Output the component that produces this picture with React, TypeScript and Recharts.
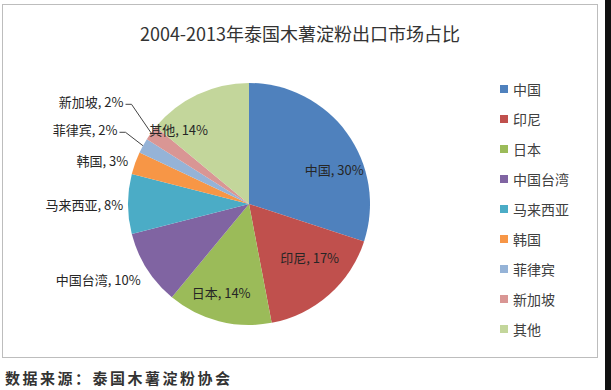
import { PieChart, Pie, Cell } from 'recharts';

const TITLE = '2004-2013年泰国木薯淀粉出口市场占比';
const SOURCE = '数据来源：泰国木薯淀粉协会';

const markets = ['中国', '印尼', '日本', '中国台湾', '马来西亚', '韩国', '菲律宾', '新加坡', '其他'];
const shares = [30, 17, 14, 10, 8, 3, 2, 2, 14];
const colors = ['#4F81BD', '#C0504D', '#9BBB59', '#8064A2', '#4BACC6', '#F79646', '#95B3D7', '#D99694', '#C3D69B'];

const data = markets.map((name, i) => ({ name, value: shares[i] }));

const FONT = '"Noto Sans CJK SC", "Noto Sans", sans-serif';
const RAD = Math.PI / 180;

// label placement per slice: inside ones sit on a fraction of the radius,
// outside ones are right-aligned beyond the edge (Excel "best fit" look)
const labelPos = [
  { r: 0.76, da: -14, inside: true },
  { r: 0.67, da: 7, inside: true },
  { r: 0.77, da: -3, inside: true },
  { r: 1.09, da: 2.4, inside: false },
  { r: 1.04, da: 0, inside: false },
  { r: 1.06, da: 0.2, inside: false },
  { r: 1.25, da: -0.8, inside: false, leader: true },
  { r: 1.34, da: -3.3, inside: false, leader: true },
  { r: 0.85, da: 18, inside: true },
];

function renderLabel(props: any) {
  const { cx, cy, midAngle, outerRadius, index } = props;
  const cfg = labelPos[index];
  const a = (midAngle + cfg.da) * RAD;
  const x = cx + outerRadius * cfg.r * Math.cos(a);
  const y = cy - outerRadius * cfg.r * Math.sin(a);
  const text = `${markets[index]}, ${shares[index]}%`;
  let leader = null;
  if (cfg.leader) {
    const ex = cx + outerRadius * Math.cos(midAngle * RAD);
    const ey = cy - outerRadius * Math.sin(midAngle * RAD);
    leader = (
      <polyline
        points={`${x + 2},${y + 3} ${x + 8},${y + 3} ${ex},${ey}`}
        fill="none"
        stroke="#444"
        strokeWidth={1}
      />
    );
  }
  return (
    <g key={`lbl-${index}`}>
      {leader}
      <text
        x={x}
        y={y}
        textAnchor={cfg.inside ? 'middle' : 'end'}
        dominantBaseline="central"
        fill="#262626"
        fontSize={13}
        fontFamily={FONT}
      >
        {text}
      </text>
    </g>
  );
}

export default function App() {
  return (
    <div style={{ position: 'absolute', left: 0, top: 0, width: 611, height: 390, background: '#fff', overflow: 'hidden', fontFamily: FONT }}>
      <div style={{ position: 'absolute', left: 2, top: 4, width: 596, height: 354, border: '1px solid #bdbdbd', boxSizing: 'border-box' }} />
      <div style={{ position: 'absolute', left: 605, top: 0, width: 6, height: 390, background: '#111' }} />
      <div style={{ position: 'absolute', left: 0, top: 20, width: 600, textAlign: 'center', fontSize: 18, color: '#333' }}>{TITLE}</div>
      <div style={{ position: 'absolute', left: 0, top: 0 }}>
        <PieChart width={600} height={360} margin={{ top: 0, right: 0, bottom: 0, left: 0 }}>
          <Pie
            data={data}
            dataKey="value"
            nameKey="name"
            cx={249}
            cy={204}
            outerRadius={121}
            startAngle={90}
            endAngle={-270}
            stroke="none"
            label={renderLabel}
            labelLine={false}
            isAnimationActive={false}
          >
            {data.map((d, i) => (
              <Cell key={d.name} fill={colors[i]} />
            ))}
          </Pie>
        </PieChart>
      </div>
      <div style={{ position: 'absolute', left: 500, top: 74 }}>
        {markets.map((m, i) => (
          <div key={m} style={{ display: 'flex', alignItems: 'center', height: 30, fontSize: 14, color: '#404040' }}>
            <span style={{ width: 8, height: 8, background: colors[i], marginRight: 5, display: 'inline-block' }} />
            {m}
          </div>
        ))}
      </div>
      <div style={{ position: 'absolute', left: 5, top: 367, fontSize: 15, letterSpacing: 2.5, color: '#333', fontWeight: 600 }}>{SOURCE}</div>
    </div>
  );
}
